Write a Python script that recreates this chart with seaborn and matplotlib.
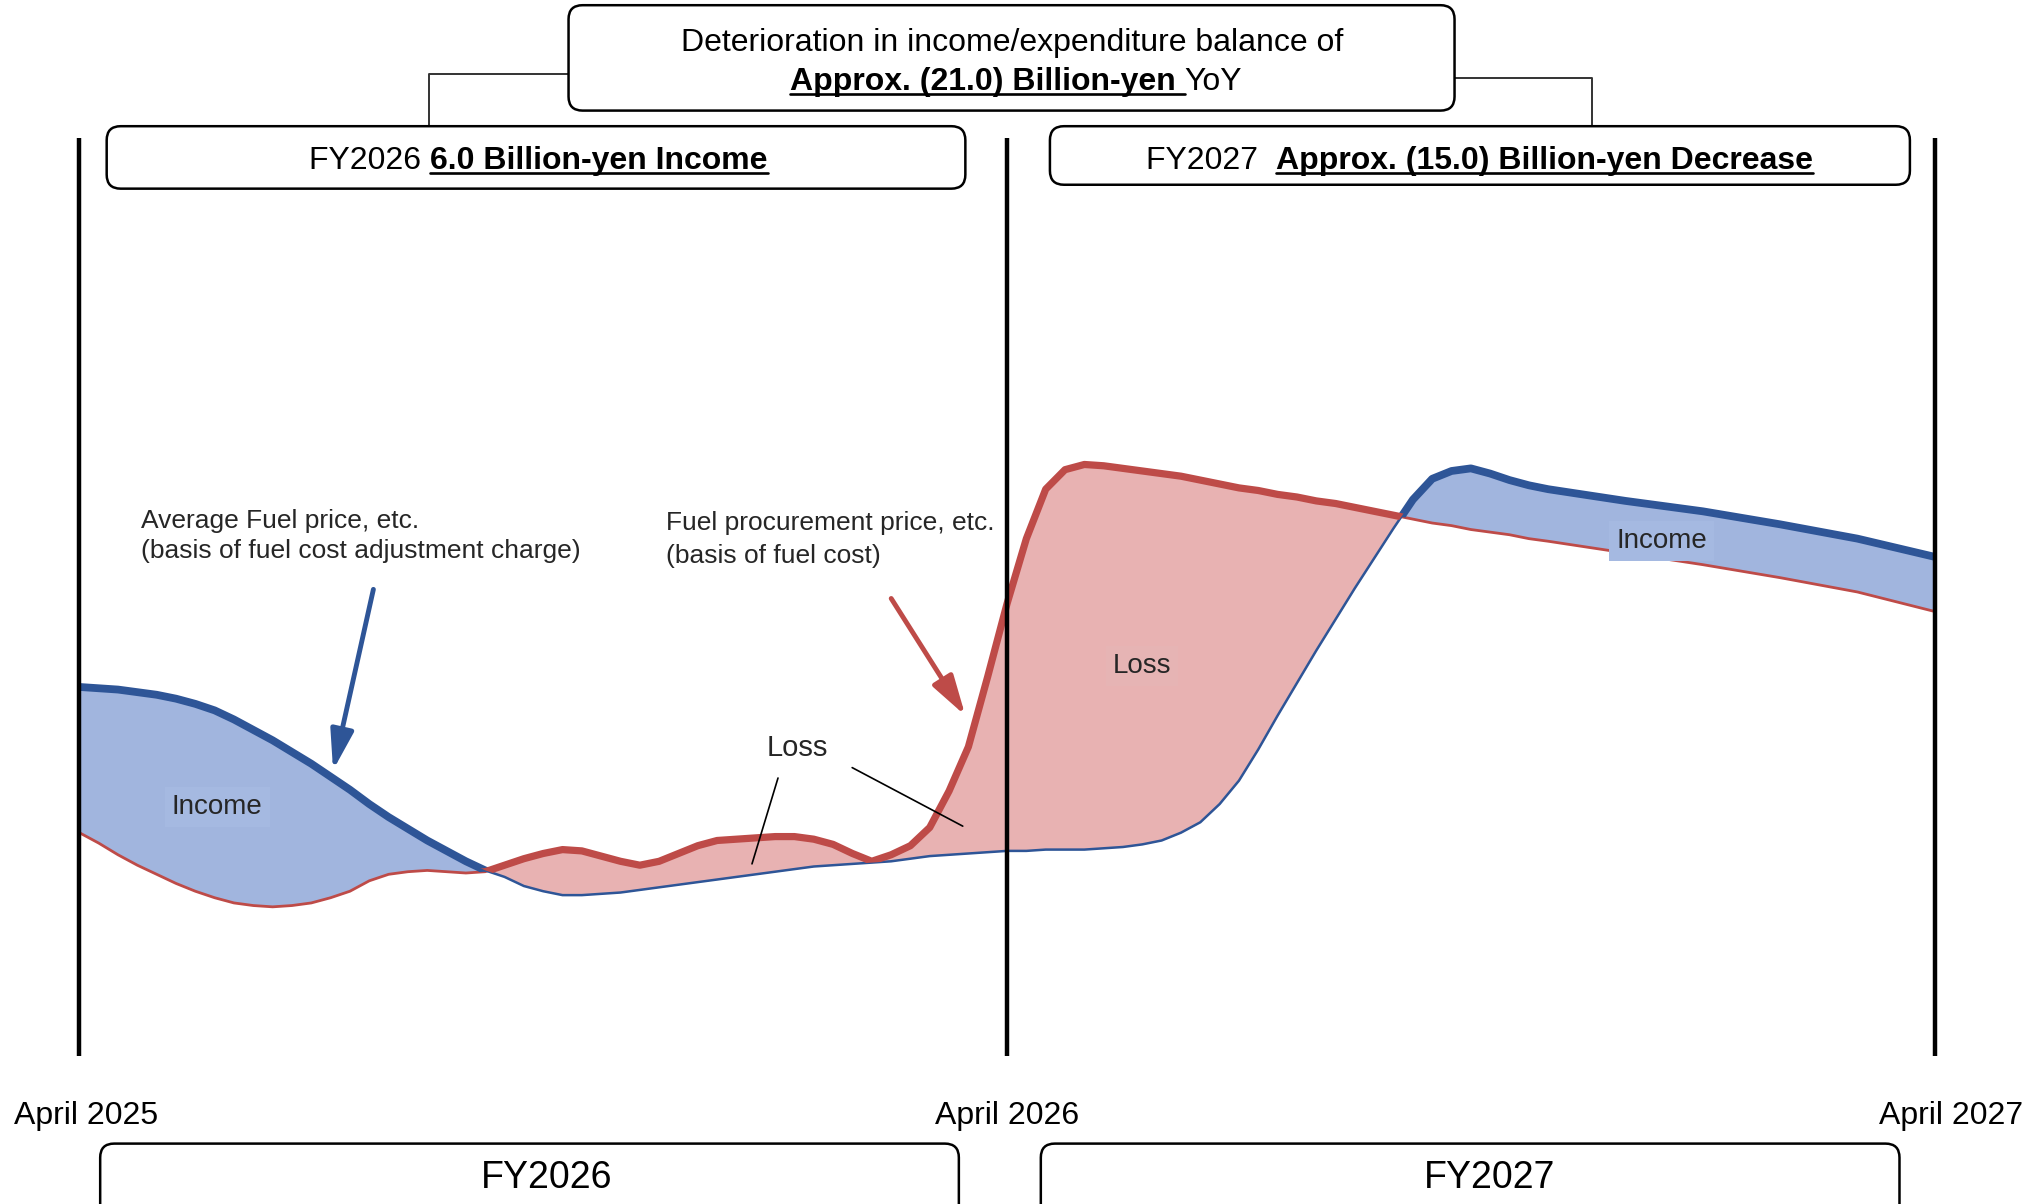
import numpy as np
import pandas as pd
import matplotlib
matplotlib.use("Agg")
import matplotlib.pyplot as plt
import seaborn as sns
from matplotlib.patches import FancyBboxPatch
from matplotlib.lines import Line2D
from matplotlib.path import Path

# ---------------- data (months from April 2025, price index) ----------------
months = [0, 0.25, 0.5, 0.75, 1, 1.25, 1.5, 1.75, 2, 2.25, 2.5, 2.75,
          3, 3.25, 3.5, 3.75, 4, 4.25, 4.5, 4.75, 5, 5.25, 5.5, 5.75,
          6, 6.25, 6.5, 6.75, 7, 7.25, 7.5, 7.75, 8, 8.25, 8.5, 8.75,
          9, 9.25, 9.5, 9.75, 10, 10.25, 10.5, 10.75, 11, 11.25, 11.5, 11.75,
          12, 12.25, 12.5, 12.75, 13, 13.25, 13.5, 13.75, 14, 14.25, 14.5, 14.75,
          15, 15.25, 15.5, 15.75, 16, 16.25, 16.5, 16.75, 17, 17.25, 17.5, 17.75,
          18, 18.25, 18.5, 18.75, 19, 20, 21, 22, 23, 24]
avg_fuel_price = [28.4, 28.3, 28.2, 28.0, 27.8, 27.5, 27.1, 26.6, 25.9, 25.1, 24.3, 23.4,
                  22.5, 21.5, 20.5, 19.4, 18.4, 17.5, 16.6, 15.8, 15.0, 14.3, 13.8, 13.1,
                  12.7, 12.4, 12.4, 12.5, 12.6, 12.8, 13.0, 13.2, 13.4, 13.6, 13.8, 14.0,
                  14.2, 14.4, 14.6, 14.7, 14.8, 14.9, 15.0, 15.2, 15.4, 15.5, 15.6, 15.7,
                  15.8, 15.8, 15.9, 15.9, 15.9, 16.0, 16.1, 16.3, 16.6, 17.2, 18.0, 19.4,
                  21.2, 23.6, 26.2, 28.7, 31.2, 33.6, 36.0, 38.3, 40.6, 42.8, 44.4, 45.0,
                  45.2, 44.8, 44.3, 43.9, 43.6, 42.7, 41.9, 40.9, 39.8, 38.4]
procurement_price = [17.2, 16.4, 15.5, 14.7, 14.0, 13.3, 12.7, 12.2, 11.8, 11.6, 11.5, 11.6,
                     11.8, 12.2, 12.7, 13.5, 14.0, 14.2, 14.3, 14.2, 14.1, 14.2, 14.7, 15.2,
                     15.6, 15.9, 15.8, 15.4, 15.0, 14.7, 15.0, 15.6, 16.2, 16.6, 16.7, 16.8,
                     16.9, 16.9, 16.7, 16.3, 15.6, 15.0, 15.5, 16.2, 17.6, 20.4, 23.8, 29.2,
                     34.8, 39.8, 43.6, 45.1, 45.5, 45.4, 45.2, 45.0, 44.8, 44.6, 44.3, 44.0,
                     43.7, 43.5, 43.2, 43.0, 42.7, 42.5, 42.2, 41.9, 41.6, 41.3, 41.0, 40.8,
                     40.5, 40.3, 40.1, 39.8, 39.6, 38.7, 37.8, 36.8, 35.7, 34.2]
period_marks = [0, 12, 24]
period_labels = ["April 2025", "April 2026", "April 2027"]
fy_labels = ["FY2026", "FY2027"]

df = pd.DataFrame({"month": months, "avg": avg_fuel_price, "proc": procurement_price})

# ---------------- style ----------------
sns.set_theme(style="white")
plt.rcParams["font.family"] = ["Liberation Sans", "DejaVu Sans"]

BLUE = "#2E5597"
RED = "#BE4B48"
BLUE_FILL = "#A1B5DE"
RED_FILL = "#E8B2B2"

W, H = 2040, 1204
S = W / 1568.0  # reference layout scale

fig = plt.figure(figsize=(W / 100, H / 100), dpi=100)
ax = fig.add_axes([0, 0, 1, 1])
ax.axis("off")
ax.set_xlim(-61 / 59.42, (1568 - 61) / 59.42)
ax.set_ylim((812 - 925.4) / 10.0, 812 / 10.0)

x = df["month"].to_numpy()
b = df["avg"].to_numpy()
r = df["proc"].to_numpy()

# fills
ax.fill_between(x, b, r, where=b >= r, interpolate=True, color=BLUE_FILL, lw=0, zorder=1)
ax.fill_between(x, b, r, where=r >= b, interpolate=True, color=RED_FILL, lw=0, zorder=1)

# thin lines
sns.lineplot(data=df, x="month", y="proc", ax=ax, color=RED, lw=2.0, sort=False,
             estimator=None, zorder=2)
sns.lineplot(data=df, x="month", y="avg", ax=ax, color=BLUE, lw=1.8, sort=False,
             estimator=None, zorder=2)

# thick lines, only where each series is on top
def above_path(other):
    verts = np.column_stack([np.r_[x, x[::-1]], np.r_[other, np.full(len(x), 500.0)]])
    return Path(verts)

sns.lineplot(data=df, x="month", y="avg", ax=ax, color=BLUE, lw=5.6, sort=False,
             estimator=None, zorder=3)
ax.lines[-1].set_clip_path(above_path(r), ax.transData)
ax.lines[-1].set_solid_capstyle("butt")
ax.lines[-1].set_solid_joinstyle("round")
sns.lineplot(data=df, x="month", y="proc", ax=ax, color=RED, lw=5.2, sort=False,
             estimator=None, zorder=3)
ax.lines[-1].set_clip_path(above_path(b), ax.transData)
ax.lines[-1].set_solid_capstyle("butt")
ax.lines[-1].set_solid_joinstyle("round")

# period boundary lines
ax.vlines(period_marks, 0, 70.6, colors="black", lw=3.2, zorder=4)

# ---------------- helpers for annotation layout ----------------
def ff(xs, ys):
    """reference layout px -> figure fraction"""
    return xs * S / W, 1 - ys * S / H

def rbox(x0, y0, x1, y1, lw=1.8):
    X0, X1 = x0 * S / 100, x1 * S / 100
    Yt, Yb = (H - y0 * S) / 100, (H - y1 * S) / 100
    p = FancyBboxPatch((X0, Yb), X1 - X0, Yt - Yb,
                       boxstyle="round,pad=0,rounding_size=0.14",
                       transform=fig.dpi_scale_trans, fc="white", ec="black", lw=lw,
                       zorder=5)
    fig.add_artist(p)

def fline(pts, **kw):
    xs = [ff(p[0], p[1])[0] for p in pts]
    ys = [ff(p[0], p[1])[1] for p in pts]
    fig.add_artist(Line2D(xs, ys, transform=fig.transFigure, **kw))

renderer = fig.canvas.get_renderer()

def mixed(parts, cx, base_y, size):
    texts = []
    widths = []
    bx, by = ff(0, base_y)
    for s, bold, ul in parts:
        t = fig.text(0, by, s, fontsize=size, fontweight="bold" if bold else "normal",
                     va="baseline", ha="left", color="black", zorder=6)
        bb = t.get_window_extent(renderer)
        texts.append(t)
        widths.append(bb.width)
    total = sum(widths)
    xpix = cx * S - total / 2
    for (s, bold, ul), t, w in zip(parts, texts, widths):
        t.set_x(xpix / W)
        if ul:
            ypix = (H - base_y * S) - size * 100 / 72 * 0.13
            fig.add_artist(Line2D([xpix / W, (xpix + w) / W], [ypix / H, ypix / H],
                                  transform=fig.transFigure, color="black", lw=1.9,
                                  zorder=6))
        xpix += w

# top summary box + connectors
fline([(437, 57), (330, 57), (330, 97)], color="#333333", lw=1.4, zorder=4)
fline([(1118, 60), (1224, 60), (1224, 97)], color="#333333", lw=1.4, zorder=4)
rbox(437, 4, 1118, 85)
mixed([("Deterioration in income/expenditure balance of", False, False)], 778, 39, 23)
mixed([("Approx. (21.0) Billion-yen ", True, True), ("YoY", False, False)], 781, 69, 23)

# yearly result boxes
rbox(82, 97, 742, 145)
mixed([("FY2026 ", False, False), ("6.0 Billion-yen Income", True, True)], 414, 130, 23)
rbox(807, 97, 1468, 142)
mixed([("FY2027  ", False, False), ("Approx. (15.0) Billion-yen Decrease", True, True)],
      1137, 130, 23)

# bottom FY boxes
rbox(77, 879, 737, 945)
rbox(800, 879, 1460, 945)
for lab, cx in zip(fy_labels, [420, 1145]):
    mixed([(lab, False, False)], cx, 913, 27)

# date labels
for lab, cx in zip(period_labels, [66, 774, 1500]):
    mixed([(lab, False, False)], cx, 864, 23)

# explanatory notes
tx, ty = ff(108, 391)
fig.text(tx, ty, "Average Fuel price, etc.\n(basis of fuel cost adjustment charge)",
         fontsize=19, va="top", ha="left", linespacing=1.32)
tx, ty = ff(512, 393)
fig.text(tx, ty, "Fuel procurement price, etc.\n(basis of fuel cost)",
         fontsize=19, va="top", ha="left", linespacing=1.48)

ax.annotate("", xy=ff(256, 592), xycoords="figure fraction", xytext=ff(287, 453),
            textcoords="figure fraction",
            arrowprops=dict(arrowstyle="-|>,head_length=1.1,head_width=0.32", lw=3.5,
                            color=BLUE, shrinkA=0, shrinkB=0, mutation_scale=22))
ax.annotate("", xy=ff(742, 550), xycoords="figure fraction", xytext=ff(685, 460),
            textcoords="figure fraction",
            arrowprops=dict(arrowstyle="-|>,head_length=1.1,head_width=0.32", lw=3.5,
                            color=RED, shrinkA=0, shrinkB=0, mutation_scale=22))

# Loss callout with leader lines
lx, ly = ff(613, 575)
fig.text(lx, ly, "Loss", fontsize=21, ha="center", va="center")
fline([(598, 598), (578, 664)], color="black", lw=1.2, zorder=6)
fline([(655, 590), (740, 635)], color="black", lw=1.2, zorder=6)

# region labels
for txt, (px, py), bg in [("Income", (167, 620), "#A5B9E1"),
                          ("Loss", (878, 512), "#E6B4B4"),
                          ("Income", (1277, 416), "#A5B9E1")]:
    X, Y = ff(px, py)
    fig.text(X, Y, txt, fontsize=20, ha="center", va="center", zorder=6,
             bbox=dict(boxstyle="square,pad=0.25", fc=bg, ec="none"))

fig.savefig("out.png", dpi=100)
